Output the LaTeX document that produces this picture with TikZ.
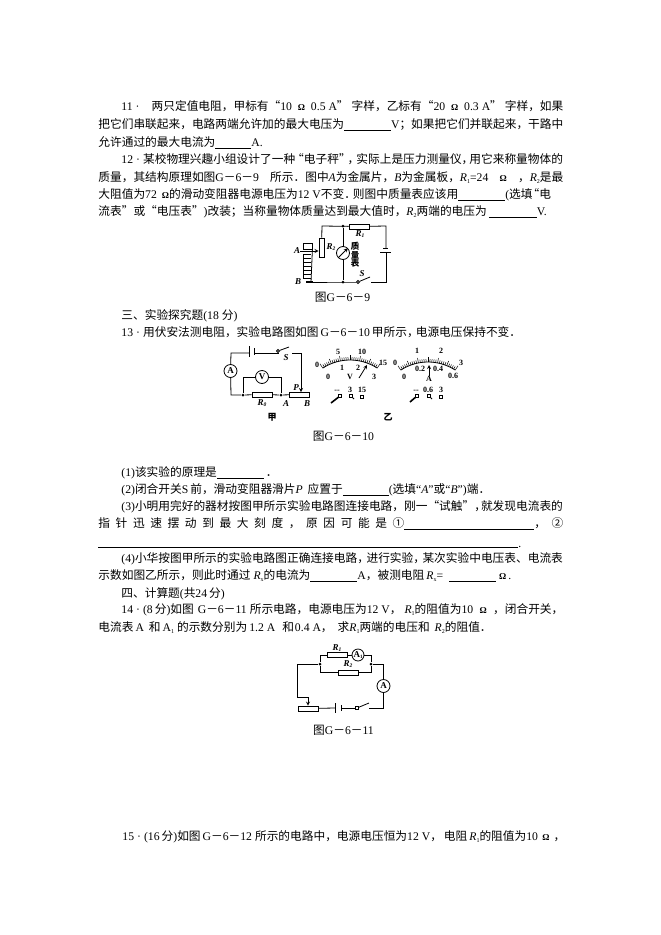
\documentclass[tikz,border=0pt]{standalone}
\usepackage{fontspec}
\usetikzlibrary{positioning}
\setmainfont{Noto Sans CJK SC}
\newfontfamily\latinfont{Liberation Serif}
\newcommand{\lt}[1]{{\latinfont #1}}
\newcommand{\lti}[1]{{\latinfont\itshape #1}}
\newcommand{\lsub}[2]{{\latinfont\itshape #1\raisebox{-2pt}{\fontsize{6}{6}\selectfont\upshape #2}}}
\newcommand{\rlab}[1]{R\raisebox{-1.5pt}{\fontsize{5.5}{5.5}\selectfont #1}}
\newcommand{\blk}[1]{\rule[-2.5pt]{#1pt}{0.7pt}}
\newcommand{\om}{{\latinfont\bfseries\fontsize{9}{9}\selectfont Ω}}
\newcommand{\qdot}{\hbox to 10pt{\hss\lt{·}\hss}}
\newcommand{\kn}[1]{\hspace{#1pt}}
\tikzset{
  txt/.style={anchor=base west,inner sep=0pt,font=\fontsize{11.7}{14}\selectfont},
  res/.style={draw,fill=white,rectangle,inner sep=0pt,minimum width=20pt,minimum height=5pt},
  meter/.style={draw,fill=white,circle,inner sep=0pt,minimum size=13pt,font=\latinfont\bfseries\fontsize{9}{9}\selectfont},
  dot/.style={fill,circle,inner sep=0pt,minimum size=3pt},
  swt/.style={draw,fill=white,circle,inner sep=0pt,minimum size=3pt},
  lab/.style={inner sep=0pt,font=\latinfont\bfseries\itshape\fontsize{9}{9}\selectfont},
  num/.style={inner sep=0pt,font=\latinfont\bfseries\fontsize{8}{8}\selectfont},
  term/.style={draw,fill=white,rectangle,inner sep=0pt,minimum size=2.5pt}
}
\begin{document}
\begin{tikzpicture}[x=1pt,y=-1pt,line width=0.8pt]
    \useasboundingbox (0,0) rectangle (661,935);

    % Question 11
    \node[txt] (q11a) at (121,110) {\hbox to 442pt{\lt{11}\qdot\kn{9}两只定值电阻，甲标有“\lt{10}\hfill\om\hfill\lt{0.5 A}”\kn{3}字样，乙标有“\lt{20}\hfill\om\hfill\lt{0.3 A}”\kn{3}字样，如果}};
    \node[txt] (q11b) at (98,128) {把它们串联起来，电路两端允许加的最大电压为\blk{47}\lt{V}；如果把它们并联起来，干路中};
    \node[txt] (q11c) at (98,146) {允许通过的最大电流为\blk{36}\lt{A.}};

    % Question 12
    \node[txt] (q12a) at (121,163) {\lt{12}\qdot 某校物理兴趣小组设计了一种\kn{-3}“电子秤”\kn{-3}，\kn{-3}实际上是压力测量仪，\kn{-4}用它来称量物体的};
    \node[txt] (q12b) at (98,181) {\hbox to 465pt{质量，其结构原理如图\lt{G}－\lt{6}－\lt{9}\hfill 所示．图中\lti{A}为金属片，\lti{B}为金属板，\lsub{R}{1}\lt{=24}\hfill\om\hfill，\lsub{R}{2}是最}};
    \node[txt] (q12c) at (98,198) {大阻值为\lt{72}\kn{5}\om 的滑动变阻器电源电压为\lt{12 V}不变．\kn{-3}则图中质量表应该用\blk{47}\lt{(}选填\kn{-5}“电};
    \node[txt] (q12d) at (98,215) {流表”或“电压表”\lt{)}改装；当称量物体质量达到最大值时，\lsub{R}{2}两端的电压为\kn{2}\blk{48}\lt{V.}};

    % Figure G-6-9
    \coordinate (toprail) at (322,226);
    \coordinate (topend) at (386,226);
    \coordinate (botend) at (386,282);
    \coordinate (botmid) at (343,282);
    \coordinate (botplate) at (311,282);
    \coordinate (swtend) at (371,282);
    \coordinate (blade) at (370,277);
    \node[res] (r1) at (359,226.5) {};
    \node[res,minimum width=5pt,minimum height=19pt] (r2) at (321.5,247.5) {};
    \node[dot] (d1) at (343,226) {};
    \node[dot] (d2) at (343,282) {};
    \node[meter] (mass) at (343,253) {};
    \node[swt] (s1) at (358,282) {};
    \node[draw,fill=white,rectangle,inner sep=0pt,minimum width=9pt,minimum height=6pt] (plate) at (307.5,246) {};
    \node[lab] (labA) at (297,251) {A};
    \node[lab] (labB) at (298,282) {B};
    \node[lab] (labR1) at (360,234) {\rlab{1}};
    \node[lab] (labR2) at (331,247) {\rlab{2}};
    \node[lab] (labS) at (362,274) {S};
    \node[inner sep=0pt,align=center,font=\bfseries\fontsize{8.5}{8.5}\selectfont] (masstxt) at (355,255) {质\\量\\表};
    \node[txt,anchor=center] (cap9) at (342.5,297) {图\lt{G}－\lt{6}－\lt{9}};
    \coordinate (bat1a) at (383,248);
    \coordinate (bat1b) at (388,248);
    \coordinate (bat2a) at (380,252);
    \coordinate (bat2b) at (391,252);
    \draw (r2) -- (toprail) -- (r1) -- (topend) -- (386,248);
    \draw (386,252) -- (botend) -- (swtend);
    \draw (bat1a) -- (bat1b);
    \draw (bat2a) -- (bat2b);
    \draw (s1) -- (blade);
    \draw (s1) -- (botmid) -- (botplate);
    \draw (d1) -- (mass) -- (d2);
    \draw[-stealth] (mass.south west) -- (mass.north east);
    \draw[-stealth] (labA) -- (r2.west |- labA);
    \draw (plate.south east) -- (botplate);
    \foreach \yy in {254,258,262,266,270,274} {
        \draw (303,\yy) -- (311,\yy);
        \draw (303,\yy) -- (303,\yy+4);
    }
    \draw (303,278) -- (311,278);
    \draw[line width=2pt] (306,282) -- (313,282);

    % Section three and question 13
    \node[txt] (sec3) at (121,319) {三、实验探究题\lt{(18}\kn{3}分\lt{)}};
    \node[txt] (q13) at (121,336) {\lt{13}\qdot 用伏安法测电阻，实验电路图如图\kn{2}\lt{G}－\lt{6}－\lt{10}\kn{2}甲所示，\kn{-3}电源电压保持不变．};

    % Figure G-6-10, left
    \coordinate (wa) at (231,353);
    \coordinate (wb) at (231,395);
    \coordinate (wc) at (301,353);
    \coordinate (wd) at (292,353);
    \coordinate (bladeb) at (289,347);
    \node[meter] (ammA) at (230.5,371) {A};
    \node[meter] (voltV) at (262,377) {V};
    \node[res] (r0) at (262,394.5) {};
    \node[res] (rheo) at (299.5,394.5) {};
    \node[dot] (d3) at (243,395) {};
    \node[dot] (d4) at (281,395) {};
    \node[swt] (s2) at (278,351) {};
    \coordinate (cell1) at (249,353);
    \coordinate (cell2) at (254,353);
    \draw (cell1) -- (wa) -- (ammA) -- (wb) -- (d3) -- (r0) -- (d4) -- (rheo);
    \draw (cell2) -- (278,353) -- (s2);
    \draw (s2) -- (bladeb);
    \draw (wd) -- (wc) -- (301,380);
    \draw[-stealth] (301,380) -- (301,392);
    \draw (d3) |- (voltV);
    \draw (voltV) -| (d4);
    \draw (249,346) -- (249,357);
    \draw (254,348) -- (254,355);
    \node[lab] (labS2) at (286,358) {S};
    \node[lab] (labP) at (296,388) {P};
    \node[lab] (labR0) at (262,403) {\rlab{0}};
    \node[lab] (labA2) at (286,404) {A};
    \node[lab] (labB2) at (307,404) {B};
    \node[inner sep=0pt,font=\bfseries\fontsize{9}{9}\selectfont] (jia) at (272,417) {甲};

    % Figure G-6-10, right: scales of both dials
    \foreach \cx/\cy in {350/410,428/412} {
        \draw ({\cx+50*cos(123)},{\cy-50*sin(123)}) arc[start angle=123,end angle=57,radius=50pt];
        \foreach \i in {0,...,30} {
            \pgfmathsetmacro{\ang}{-123+2.2*\i}
            \pgfmathsetmacro{\tick}{ifthenelse(mod(\i,5)==0,55,53)}
            \draw[line width=0.5pt] ({\cx+50*cos(\ang)},{\cy+50*sin(\ang)}) -- ({\cx+\tick*cos(\ang)},{\cy+\tick*sin(\ang)});
        }
    }

    % voltmeter
    \node[num] (v0) at (317,365) {0};
    \node[num] (v5) at (338,352) {5};
    \node[num] (v10) at (362,352) {10};
    \node[num] (v15) at (383,363) {15};
    \node[num] (vi0) at (328,377) {0};
    \node[num] (vi1) at (342,368) {1};
    \node[num] (vi2) at (358,368) {2};
    \node[num] (vi3) at (374,377) {3};
    \node[num] (vV) at (350,377) {V};
    \coordinate (needleV) at (359,378);
    \coordinate (tipV) at (367,365);
    \draw[-stealth] (needleV) -- (tipV);
    \node[num] (vm) at (337,391) {--};
    \node[num] (vt3) at (350,390) {3};
    \node[num] (vt15) at (362,390) {15};
    \node[term] (tv1) at (340,396) {};
    \node[term] (tv2) at (351,396) {};
    \node[term] (tv3) at (362,397) {};
    \draw[line width=1.6pt] (tv1) -- (331,403);
    \draw (tv2) -- (354,399);

    % ammeter
    \node[num] (a0) at (395,363) {0};
    \node[num] (a1) at (417,351) {1};
    \node[num] (a2) at (441,351) {2};
    \node[num] (a3) at (461,363) {3};
    \node[num] (ai0) at (404,377) {0};
    \node[num] (ai2) at (420,369) {0.2};
    \node[num] (ai4) at (438,369) {0.4};
    \node[num] (ai6) at (453,376) {0.6};
    \node[num] (aA) at (429,379) {A};
    \coordinate (tipA) at (429,365);
    \draw[-stealth] (aA) -- (tipA);
    \node[num] (am) at (416,391) {--};
    \node[num] (at6) at (428,390) {0.6};
    \node[num] (at3) at (441,390) {3};
    \node[term] (ta1) at (417,396) {};
    \node[term] (ta2) at (429,396) {};
    \node[term] (ta3) at (441,397) {};
    \draw[line width=1.6pt] (ta1) -- (410,402);
    \draw (ta2) -- (432,399);
    \node[inner sep=0pt,font=\bfseries\fontsize{9}{9}\selectfont] (yi) at (388,417) {乙};
    \node[txt,anchor=center] (cap10) at (343.5,436) {图\lt{G}－\lt{6}－\lt{10}};

    % Question 13 parts
    \node[txt] (p1) at (121,476) {\lt{(1)}该实验的原理是\blk{47}\kn{2}．};
    \node[txt] (p2) at (121,493) {\lt{(2)}闭合开关\lt{S}\,前，滑动变阻器滑片\lti{P}\kn{5}应置于\blk{46}\lt{(}选填\lt{“}\lti{A}\lt{”}或\lt{“}\lti{B}\lt{”)}端．};
    \node[txt] (p3) at (121,510) {\lt{(3)}小明用完好的器材按图甲所示实验电路图连接电路，刚一“试触”，\kn{-5}就发现电流表的};
    \node[txt] (p3b) at (98,527) {\hbox to 465pt{指\hfill 针\hfill 迅\hfill 速\hfill 摆\hfill 动\hfill 到\hfill 最\hfill 大\hfill 刻\hfill 度\hfill ，\hfill 原\hfill 因\hfill 可\hfill 能\hfill 是\hfill ①\blk{130}，\hfill ②}};
    \coordinate (rulel) at (98,547);
    \coordinate (ruler) at (518,547);
    \draw (rulel) -- (ruler);
    \node[txt] (p3c) at (518,547) {\lt{.}};
    \node[txt] (p4) at (121,562) {\lt{(4)}小华按图甲所示的实验电路图正确连接电路，\kn{-2.5}进行实验，\kn{-2.5}某次实验中电压表、电流表};
    \node[txt] (p4b) at (98,579) {示数如图乙所示，则此时通过\kn{3}\lsub{R}{x}的电流为\blk{47}\lt{A}，被测电阻\kn{2}\lsub{R}{x}\lt{=}\kn{6}\blk{47}\kn{3}\om\kn{2}\lt{.}};

    % Section four and question 14
    \node[txt] (sec4) at (121,597) {四、计算题\lt{(}共\lt{24}\kn{2}分\lt{)}};
    \node[txt] (q14a) at (121,613) {\hbox to 442pt{\lt{14}\qdot\lt{(8}\kn{2}分\lt{)}如图\kn{4}\lt{G}－\lt{6}－\lt{11}\kn{3}所示电路，电源电压为\lt{12 V}，\kn{3}\lsub{R}{1}的阻值为\lt{10}\hfill\om\hfill，闭合开关，}};
    \node[txt] (q14b) at (98,631) {电流表\kn{2}\lt{A}\kn{5}和\kn{2}\lt{A}\raisebox{-2pt}{\latinfont\fontsize{6}{6}\selectfont 1}\kn{3}的示数分别为\kn{2}\lt{1.2 A}\kn{7}和\kn{1}\lt{0.4 A}，\kn{5}求\lsub{R}{1}两端的电压和\kn{5}\lsub{R}{2}的阻值．};

    % Figure G-6-11
    \node[dot] (nl) at (320,664) {};
    \node[dot] (nr) at (371,664) {};
    \node[res] (r1b) at (337,655) {};
    \node[meter,minimum size=12pt] (amm1) at (358,655) {A\raisebox{-1pt}{\fontsize{5}{5}\selectfont 1}};
    \node[res] (r2b) at (348.5,672.5) {};
    \node[meter] (amm) at (383.5,686) {A};
    \node[res] (rheob) at (308,708.5) {};
    \node[term] (s3) at (357,708) {};
    \coordinate (bladec) at (369,703);
    \coordinate (e1) at (369,708);
    \coordinate (corner) at (297,664);
    \coordinate (cell3) at (335,708);
    \coordinate (cell4) at (341,708);
    \draw (nl) |- (r1b);
    \draw (r1b) -- (amm1) -| (nr);
    \draw (nl) |- (r2b);
    \draw (r2b) -| (nr);
    \draw (nr) -| (amm);
    \draw (amm) |- (e1);
    \draw (s3) -- (bladec);
    \draw (s3) -- (cell4);
    \draw (cell3) -- (rheob);
    \draw (335,703) -- (335,713);
    \draw (341,705) -- (341,711);
    \draw (nl) -- (corner) -- (297,697) -- (308,697);
    \draw[-stealth] (308,697) -- (rheob.north);
    \node[lab] (labR1b) at (337,648) {\rlab{1}};
    \node[lab] (labR2b) at (348,664) {\rlab{2}};
    \node[txt,anchor=center] (cap11) at (343.5,730) {图\lt{G}－\lt{6}－\lt{11}};

    % Question 15
    \node[txt] (q15) at (122,840) {\hbox to 443pt{\lt{15}\qdot\lt{(16}\kn{2}分\lt{)}如图\kn{2}\lt{G}－\lt{6}－\lt{12}\kn{3}所示的电路中，电源电压恒为\lt{12 V}，\kn{2}电阻\kn{2}\lsub{R}{1}的阻值为\lt{10}\hfill\om\hfill，}};
\end{tikzpicture}
\end{document}
